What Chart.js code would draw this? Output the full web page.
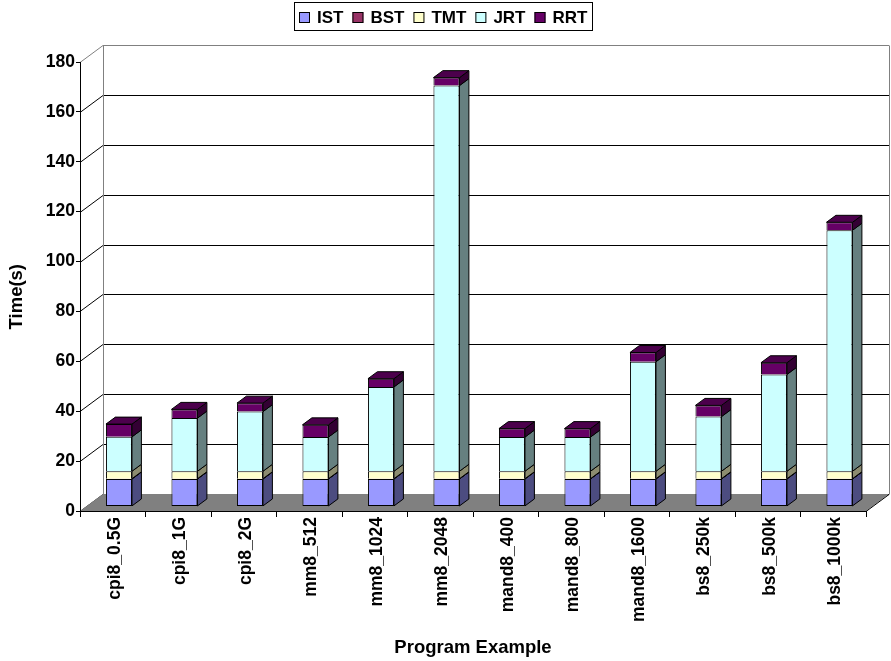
<!DOCTYPE html>
<html>
<head>
<meta charset="utf-8">
<script src="https://cdn.jsdelivr.net/npm/chart.js@4.4.1/dist/chart.umd.min.js"></script>
<style>
  html, body { margin: 0; padding: 0; background: #fff; }
  #c { display: block; }
</style>
</head>
<body>
<canvas id="c" width="891" height="661"></canvas>
<script>
// Program runs and their time breakdown (seconds)
const categories = ['cpi8_0.5G', 'cpi8_1G', 'cpi8_2G', 'mm8_512', 'mm8_1024', 'mm8_2048',
                    'mand8_400', 'mand8_800', 'mand8_1600', 'bs8_250k', 'bs8_500k', 'bs8_1000k'];
const istValues = [11, 11, 11, 11, 11, 11, 11, 11, 11, 11, 11, 11];
const bstValues = [0.1, 0.1, 0.1, 0.1, 0.1, 0.1, 0.1, 0.1, 0.1, 0.1, 0.1, 0.1];
const tmtValues = [3, 3, 3, 3, 3, 3, 3, 3, 3, 3, 3, 3];
const jrtValues = [13.8, 21.3, 23.9, 13.7, 33.8, 154.6, 13.7, 13.7, 43.9, 21.9, 38.8, 96.6];
const rrtValues = [5.1, 3.5, 3.4, 4.9, 3.3, 3.2, 3.4, 3.4, 3.7, 4.5, 4.7, 3.2];
const yTickMin = 0, yTickMax = 180, yTickStep = 20;
const yTitle = 'Time(s)';
const xTitle = 'Program Example';

// Depth of the 3D box (back wall offset) and where bars sit inside it
const DEPTH = { x: 23, y: -17 };
const BAR_FRONT = 0.27;
const BAR_DEEP = 0.41;
const FONT = '"Liberation Sans", Arial, Helvetica, sans-serif';

const series = [
  { label: 'IST', data: istValues, front: '#9999FF', side: '#4C4C80', top: '#7373BF' },
  { label: 'BST', data: bstValues, front: '#993366', side: '#4C1933', top: '#73264C' },
  { label: 'TMT', data: tmtValues, front: '#FFFFCC', side: '#8C8C70', top: '#BFBF99' },
  { label: 'JRT', data: jrtValues, front: '#CCFFFF', side: '#668080', top: '#99BFBF' },
  { label: 'RRT', data: rrtValues, front: '#660066', side: '#330033', top: '#4C004C' }
];

const box3d = {
  id: 'box3d',
  beforeDraw(chart) {
    const { ctx, chartArea: a, scales: { y } } = chart;
    const dx = DEPTH.x, dy = DEPTH.y;
    ctx.save();
    ctx.lineWidth = 1;
    // walls: gridlines run across the left wall and the back wall
    y.ticks.forEach(t => {
      const py = Math.round(y.getPixelForValue(t.value)) + 0.5;
      ctx.strokeStyle = t.value === y.max ? '#808080' : '#000';
      ctx.beginPath();
      ctx.moveTo(a.left, py);
      ctx.lineTo(a.left + dx, py + dy);
      ctx.lineTo(a.right + dx, py + dy);
      ctx.stroke();
    });
    ctx.strokeStyle = '#808080';
    ctx.beginPath();
    const top = Math.round(y.getPixelForValue(y.max)) + 0.5 + dy;
    const bottom = Math.round(y.getPixelForValue(y.min)) + 0.5 + dy;
    ctx.moveTo(Math.round(a.left + dx) + 0.5, top);
    ctx.lineTo(Math.round(a.left + dx) + 0.5, bottom);
    ctx.moveTo(Math.round(a.right + dx) + 0.5, top);
    ctx.lineTo(Math.round(a.right + dx) + 0.5, bottom);
    ctx.stroke();
    // floor
    ctx.fillStyle = '#808080';
    ctx.beginPath();
    ctx.moveTo(a.left, a.bottom);
    ctx.lineTo(a.right, a.bottom);
    ctx.lineTo(a.right + dx, a.bottom + dy);
    ctx.lineTo(a.left + dx, a.bottom + dy);
    ctx.closePath();
    ctx.fill();
    ctx.strokeStyle = '#000';
    ctx.beginPath();
    ctx.moveTo(a.right, a.bottom + 0.5);
    ctx.lineTo(a.right + dx, a.bottom + dy + 0.5);
    ctx.stroke();
    ctx.restore();
  },
  beforeDatasetsDraw(chart) {
    chart.ctx.save();
    chart.ctx.translate(DEPTH.x * BAR_FRONT, DEPTH.y * BAR_FRONT);
  },
  afterDatasetsDraw(chart) {
    const ctx = chart.ctx;
    const ddx = DEPTH.x * BAR_DEEP, ddy = DEPTH.y * BAR_DEEP;
    const last = chart.data.datasets.length - 1;
    ctx.lineWidth = 1;
    ctx.strokeStyle = '#000';
    ctx.lineJoin = 'miter';
    chart.data.datasets.forEach((ds, di) => {
      chart.getDatasetMeta(di).data.forEach(bar => {
        const { x, y, base, width } = bar.getProps(['x', 'y', 'base', 'width'], true);
        const l = x - width / 2, r = x + width / 2;
        const t = Math.min(y, base), b = Math.max(y, base);
        ctx.fillStyle = ds.sideColor;
        ctx.beginPath();
        ctx.moveTo(r, t);
        ctx.lineTo(r + ddx, t + ddy);
        ctx.lineTo(r + ddx, b + ddy);
        ctx.lineTo(r, b);
        ctx.closePath();
        ctx.fill();
        ctx.stroke();
        if (di === last) {
          ctx.fillStyle = ds.topColor;
          ctx.beginPath();
          ctx.moveTo(l, t);
          ctx.lineTo(l + ddx, t + ddy);
          ctx.lineTo(r + ddx, t + ddy);
          ctx.lineTo(r, t);
          ctx.closePath();
          ctx.fill();
          ctx.stroke();
        }
      });
    });
    ctx.restore();
  },
  afterDraw(chart) {
    const ctx = chart.ctx;
    const a = chart.chartArea;
    ctx.save();
    // value axis title, centred on the wall height
    ctx.font = 'bold 18.5px ' + FONT;
    ctx.fillStyle = '#000';
    ctx.textAlign = 'center';
    ctx.textBaseline = 'middle';
    ctx.translate(17, (a.top + a.bottom) / 2 + DEPTH.y * -0.6);
    ctx.rotate(-Math.PI / 2);
    ctx.fillText(yTitle, 0, 0);
    ctx.restore();

    // boxed legend across the top
    ctx.save();
    ctx.font = 'bold 17px ' + FONT;
    const items = chart.data.datasets.map(ds => ({
      label: ds.label, color: ds.backgroundColor, w: ctx.measureText(ds.label).width
    }));
    const pad = 5, mk = 11, gap = 7, spacing = 9;
    const total = pad * 2 + items.reduce((s, it) => s + mk + gap + it.w, 0) + spacing * (items.length - 1);
    const bx = Math.round(443.5 - total / 2);
    const by = 2, bh = 28, cy = by + bh / 2 + 1;
    ctx.strokeStyle = '#000';
    ctx.lineWidth = 1;
    ctx.strokeRect(bx + 0.5, by + 0.5, Math.round(total), bh);
    let x = bx + pad;
    ctx.textBaseline = 'middle';
    ctx.textAlign = 'left';
    items.forEach(it => {
      ctx.fillStyle = it.color;
      ctx.fillRect(x, Math.round(cy - mk / 2), mk, mk);
      ctx.strokeRect(x + 0.5, Math.round(cy - mk / 2) + 0.5, mk - 1, mk - 1);
      ctx.fillStyle = '#000';
      ctx.fillText(it.label, x + mk + gap, cy + 1);
      x += mk + gap + it.w + spacing;
    });
    ctx.restore();
  }
};

const datasets = series.map((s, i) => ({
  label: s.label,
  data: s.data,
  backgroundColor: s.front,
  sideColor: s.side,
  topColor: s.top,
  borderColor: '#000',
  borderWidth: 1,
  borderSkipped: i === 0 ? false : 'start',
  barPercentage: 0.397,
  categoryPercentage: 1
}));

new Chart(document.getElementById('c'), {
  type: 'bar',
  data: { labels: categories, datasets },
  options: {
    responsive: false,
    animation: false,
    devicePixelRatio: 1,
    layout: { padding: { top: 62, right: 25, left: 0, bottom: 0 } },
    plugins: { legend: { display: false }, tooltip: { enabled: false } },
    scales: {
      x: {
        stacked: true,
        afterFit(scale) { scale.height = 150; },
        grid: { display: true, drawOnChartArea: false, drawTicks: true, tickLength: 6, tickColor: '#000', offset: true },
        border: { display: true, color: '#000', width: 1 },
        ticks: {
          color: '#000', font: { family: FONT, size: 17.5, weight: 'bold' },
          minRotation: 90, maxRotation: 90, padding: 0, labelOffset: 2, autoSkip: false
        },
        title: {
          display: true, text: xTitle, color: '#000',
          font: { family: FONT, size: 18.5, weight: 'bold' }, padding: { top: 4, bottom: 2 }
        }
      },
      y: {
        stacked: true,
        min: yTickMin, max: yTickMax,
        afterFit(scale) { scale.width = 80; },
        grid: { display: true, drawOnChartArea: false, drawTicks: true, tickLength: 4, tickColor: '#000' },
        border: { display: true, color: '#000', width: 1 },
        ticks: {
          stepSize: yTickStep, color: '#000', padding: 1,
          font: { family: FONT, size: 17.5, weight: 'bold' }
        }
      }
    }
  },
  plugins: [box3d]
});
</script>
</body>
</html>
